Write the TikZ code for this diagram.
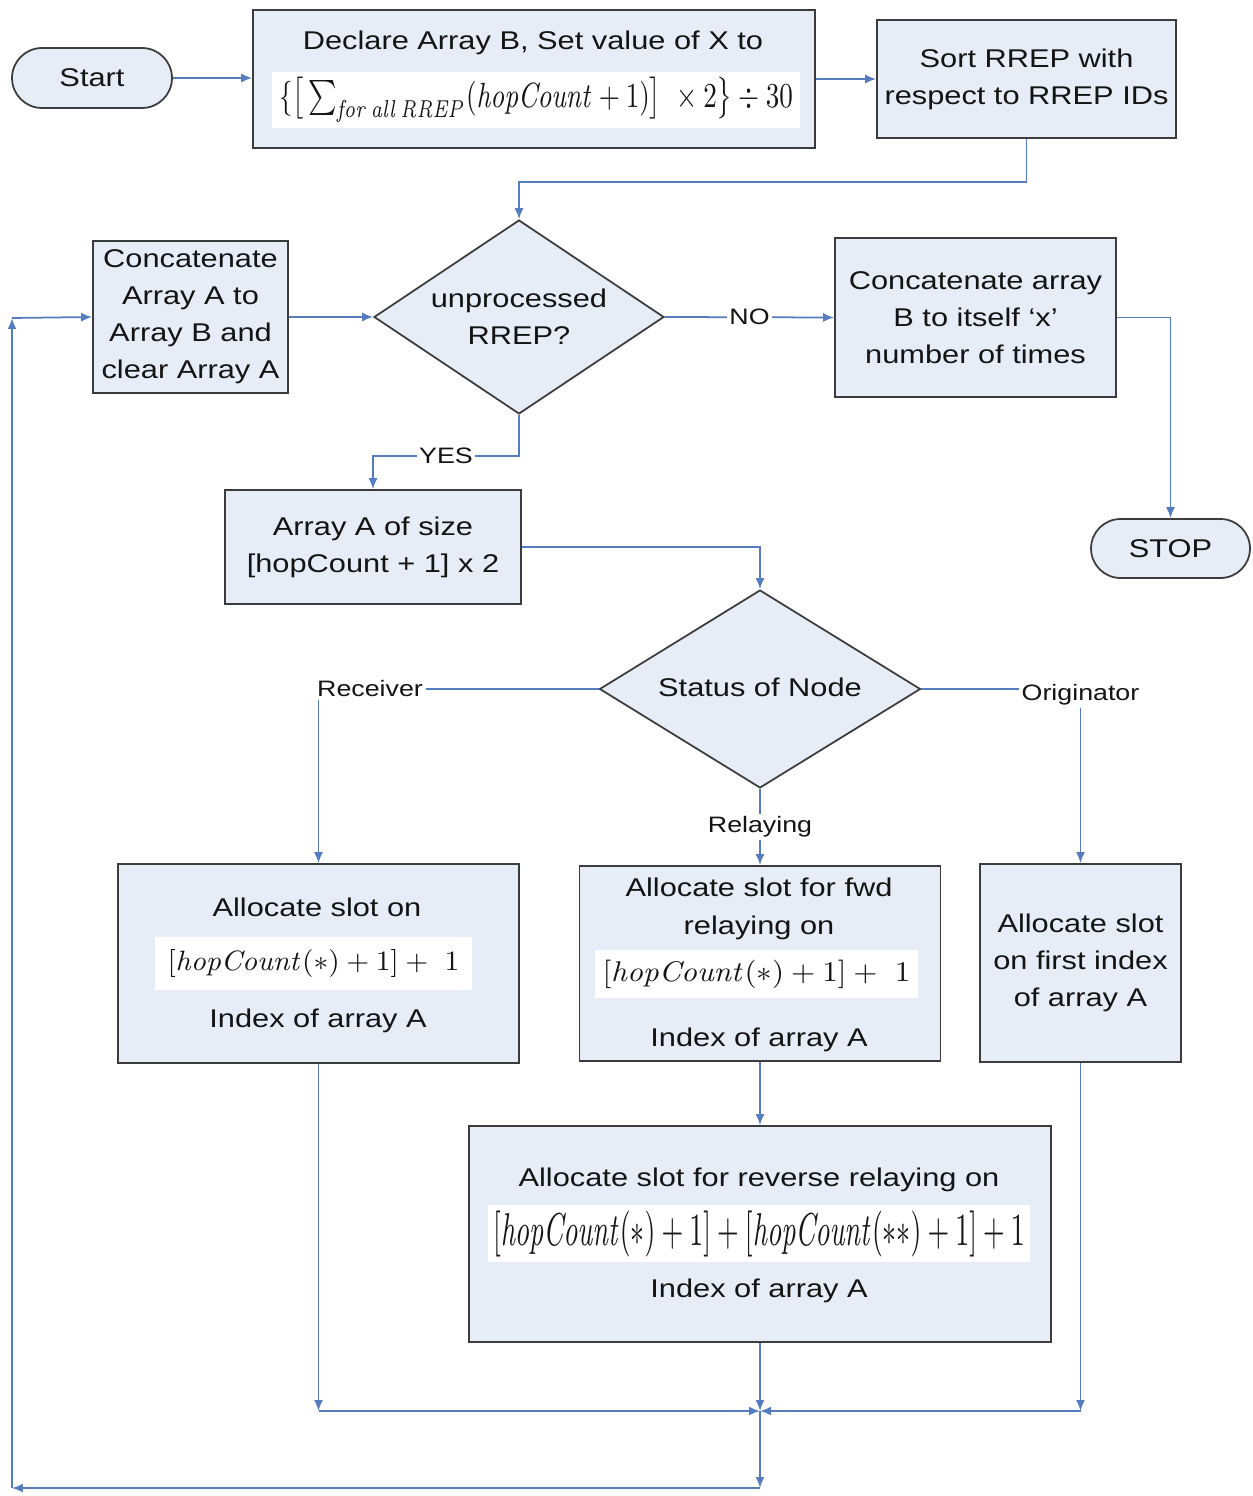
\documentclass[tikz,border=0pt]{standalone}
\usepackage[no-math]{fontspec}
\setmainfont[FakeStretch=1.2]{Liberation Sans}
\usepackage{graphicx}
\usetikzlibrary{shapes.geometric,arrows.meta,calc}

\definecolor{boxfill}{RGB}{231,237,247}
\definecolor{boxline}{RGB}{60,60,60}
\definecolor{flow}{RGB}{84,124,190}
\definecolor{ink}{RGB}{20,20,20}

\newcommand{\mainsize}{\fontsize{14.6}{21}\selectfont}
\newcommand{\lblsize}{\fontsize{12.7}{15}\selectfont}
\newcommand{\hc}{\mathit{hopCount}}

\begin{document}
\begin{tikzpicture}[x=0.02cm,y=-0.02cm,
  box/.style={draw=boxline, line width=1pt, fill=boxfill, align=center,
              text=ink, font=\mainsize, inner sep=2pt},
  term/.style={box, minimum width=3.2cm, minimum height=1.2cm, rounded corners=0.6cm},
  dia/.style={draw=boxline, line width=1pt, fill=boxfill, diamond, inner sep=0pt},
  ln/.style={inner sep=0pt, text=ink, font=\mainsize, align=center,
             text height=10.4pt, text depth=0pt},
  wbox/.style={fill=white, inner sep=0pt, text=ink},
  arr/.style={draw=flow, line width=1pt, -{Latex[length=0.22cm,width=0.18cm]}},
  lbl/.style={fill=white, inner sep=1.5pt, text=ink, font=\lblsize}]

\path[use as bounding box] (0,0) rectangle (1252,1496);

% ---- top row ----
\node[term] (start) at (92,78) {Start};
\node[box, minimum width=11.24cm, minimum height=2.76cm] (decl) at (534,79) {};
\node[ln] (declT) at (533,40) {Declare Array B, Set value of X to};
\node[wbox, minimum width=10.56cm, minimum height=1.12cm] (declF) at (536,100)
  {\resizebox*{10.28cm}{0.9cm}{$\{\big[\textstyle\sum_{\mathit{for\,all\,RREP}}(\hc+1)\big]\ \times 2\big\}\div 30$}};
\node[box, minimum width=5.98cm, minimum height=2.36cm] (sort) at (1026.5,79)
  {Sort RREP with\\respect to RREP IDs};

% ---- loop decision ----
\node[box, minimum width=3.9cm, minimum height=3.04cm] (catA) at (190.5,317)
  {Concatenate\\Array A to\\Array B and\\clear Array A};
\node[dia, minimum width=5.8cm, minimum height=3.88cm] (d1) at (519,317) {};
\node[ln] (d1T) at (519,298) {unprocessed};
\node[ln] (d1T2) at (519,335) {RREP?};
\node[box, minimum width=5.62cm, minimum height=3.18cm] (catB) at (975.5,317.5)
  {Concatenate array\\B to itself `x'\\number of times};
\node[term, minimum width=3.18cm, minimum height=1.18cm, rounded corners=0.59cm] (stop) at (1170.5,548.5) {STOP};

\node[box, minimum width=5.92cm, minimum height=2.28cm] (arrA) at (373,547)
  {Array A of size\\{[}hopCount + 1{]} x 2};

% ---- node status ----
\node[dia, minimum width=6.42cm, minimum height=3.96cm] (d2) at (760,689) {};
\node[ln] (d2T) at (760,687) {Status of Node};

\node[box, minimum width=8.02cm, minimum height=3.98cm] (recv) at (318.5,963.5) {};
\node[ln] (recvT) at (317,907) {Allocate slot on};
\node[wbox, minimum width=6.34cm, minimum height=1.06cm] (recvF) at (313.5,963.5)
  {\resizebox*{5.84cm}{0.56cm}{$[\hc(\ast)+1]+\ 1$}};
\node[ln] (recvI) at (318,1018) {Index of array A};

\node[box, minimum width=7.22cm, minimum height=3.9cm] (relay) at (760,963.5) {};
\node[ln] (relayT) at (759,887) {Allocate slot for fwd};
\node[ln] (relayT2) at (759,925) {relaying on};
\node[wbox, minimum width=6.46cm, minimum height=0.96cm] (relayF) at (756.5,974)
  {\resizebox*{6.16cm}{0.57cm}{$[\hc(\ast)+1]+\ 1$}};
\node[ln] (relayI) at (759,1037) {Index of array A};

\node[box, minimum width=4.02cm, minimum height=3.96cm] (orig) at (1080.5,963)
  {Allocate slot\\on first index\\of array A};

\node[box, minimum width=11.64cm, minimum height=4.32cm] (rev) at (760,1234) {};
\node[ln] (revT) at (759,1177) {Allocate slot for reverse relaying on};
\node[wbox, minimum width=10.84cm, minimum height=1.14cm] (revF) at (759,1233.5)
  {\resizebox*{10.64cm}{0.92cm}{$[\hc(\ast)+1]+[\hc(\ast\ast)+1]+1$}};
\node[ln] (revI) at (759,1288) {Index of array A};

% ---- junction points of the return path ----
\coordinate (jL) at (318.5,1411);
\coordinate (jC) at (760,1411);
\coordinate (jR) at (1080.5,1411);
\coordinate (bC) at (760,1488);
\coordinate (bL) at (12,1488);
\coordinate (tL) at (12,318);

% ---- connectors ----
\draw[arr] (start.east) -- (start.east -| decl.west);
\draw[arr] (decl.east) -- (sort.west);
\draw[arr] (sort.south) -- ++(0,43) -| (d1.north);
\draw[arr] (catA.east) -- (d1.west);
\draw[arr] (d1.east) -- node[lbl] {NO} (catB.west);
\draw[arr] (catB.east) -| (stop.north);
\draw[arr] (d1.south) -- ++(0,41) -| node[lbl, pos=0.25] {YES} (arrA.north);
\draw[arr] (arrA.east) -| (d2.north);
\draw[arr] (d2.west) -| node[lbl, pos=0.408] {Receiver} (recv.north);
\draw[arr] (d2.east) -| node[lbl, pos=0.5, yshift=-0.12cm] {Originator} (orig.north);
\draw[arr] (d2.south) -- node[lbl] {Relaying} (relay.north);
\draw[arr] (relay.south) -- (rev.north);

\draw[arr] (recv.south) -- (jL);
\draw[arr] (jL) -- (jC);
\draw[arr] (orig.south) -- (jR);
\draw[arr] (jR) -- (jC);
\draw[arr] (rev.south) -- (jC);
\draw[arr] (jC) -- (bC);
\draw[arr] (bC) -- (bL);
\draw[arr] (bL) -- (tL);
\draw[arr] (tL) -- (catA.west);

\end{tikzpicture}
\end{document}
